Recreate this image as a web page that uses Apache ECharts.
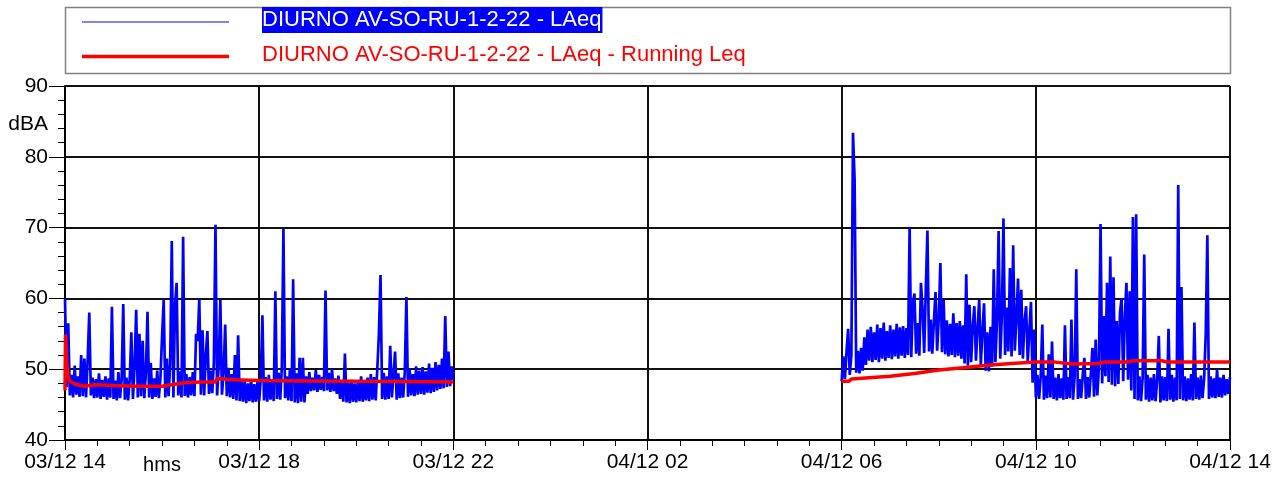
<!DOCTYPE html>
<html>
<head>
<meta charset="utf-8">
<script src="https://cdn.jsdelivr.net/npm/echarts@6/dist/echarts.min.js"></script>
<style>
  html, body { margin: 0; padding: 0; background: #fff; }
  #chart { width: 1287px; height: 486px; }
</style>
</head>
<body>
<div id="chart"></div>
<script>
// x axis runs in hours from 03/12 14:00 (0) to 04/12 14:00 (24)
var xTickLabels = ['03/12 14', '03/12 18', '03/12 22', '04/12 02', '04/12 06', '04/12 10', '04/12 14'];
var blueName = 'DIURNO AV-SO-RU-1-2-22 - LAeq';
var redName = 'DIURNO AV-SO-RU-1-2-22 - LAeq - Running Leq';

// LAeq, one value every 2 minutes, 03/12 14:00 -> 22:00
var blueStart1 = 0;
var blue1 = [
  60.0, 47.5, 56.5, 46.3, 49.2, 46.0, 50.5, 46.4, 49.0, 46.1,
  52.0, 46.2, 51.5, 46.0, 51.3, 58.0, 46.3, 48.8, 45.9, 48.6,
  46.0, 49.4, 45.8, 48.5, 46.1, 49.0, 45.7, 48.7, 46.0, 58.8,
  45.8, 48.4, 45.6, 49.6, 45.9, 48.5, 59.2, 45.7, 48.8, 45.6,
  48.6, 55.2, 45.8, 50.5, 58.4, 46.0, 55.0, 46.2, 54.0, 45.9,
  49.5, 58.1, 46.0, 50.9, 45.8, 48.7, 46.1, 49.8, 45.9, 48.9,
  54.7, 59.8, 46.0, 51.5, 46.2, 50.8, 68.1, 46.0, 59.1, 62.2,
  46.3, 49.7, 46.0, 68.7, 46.2, 49.3, 46.0, 48.9, 46.3, 49.6,
  46.2, 55.0, 54.0, 60.0, 46.4, 55.5, 46.3, 52.0, 55.4, 46.5,
  49.8, 46.6, 51.0, 70.4, 46.3, 50.5, 59.8, 46.4, 49.5, 56.3,
  46.2, 50.2, 46.0, 49.3, 45.8, 52.0, 45.6, 54.8, 45.5, 48.5,
  45.4, 48.3, 45.2, 48.0, 45.5, 48.6, 45.3, 47.9, 45.4, 48.4,
  45.5, 48.7, 57.6, 45.6, 48.9, 45.4, 49.2, 45.7, 48.6, 45.5,
  61.0, 45.8, 49.5, 45.7, 50.2, 69.8, 45.9, 49.0, 45.6, 50.0,
  45.5, 62.7, 45.3, 49.4, 45.2, 51.6, 45.4, 51.6, 45.3, 49.0,
  46.5, 49.6, 46.9, 48.8, 47.0, 49.9, 46.8, 49.2, 47.1, 48.9,
  46.9, 61.1, 47.0, 49.5, 46.8, 50.0, 46.9, 48.7, 46.5, 49.1,
  45.8, 48.4, 45.4, 52.2, 45.3, 48.1, 45.2, 48.5, 45.4, 48.0,
  45.3, 48.3, 45.5, 49.0, 45.4, 48.2, 45.6, 48.8, 45.5, 49.3,
  45.7, 48.9, 45.6, 50.0, 55.0, 63.3, 45.8, 49.5, 45.7, 49.0,
  45.8, 53.3, 46.0, 49.2, 52.5, 45.7, 49.4, 45.9, 48.8, 46.0,
  49.6, 60.2, 46.1, 50.0, 46.3, 49.3, 46.2, 50.4, 46.4, 49.8,
  46.5, 50.3, 46.4, 49.7, 46.7, 50.8, 46.6, 50.2, 46.8, 51.0,
  47.0, 50.6, 47.2, 51.5, 47.3, 57.5, 47.5, 52.5, 47.6, 50.4,
  48.5
];

// LAeq, one value every 2 minutes, 04/12 06:00 -> 14:00
var blueStart2 = 16;
var blue2 = [
  48.3, 51.8, 48.6, 52.5, 55.7, 49.2, 52.0, 83.4, 76.8, 49.5,
  52.6, 49.4, 53.0, 49.8, 54.5, 50.6, 55.6, 51.2, 56.0, 51.0,
  55.2, 51.3, 56.3, 51.0, 55.8, 51.5, 56.6, 51.2, 55.4, 51.6,
  56.2, 51.4, 55.6, 51.8, 56.4, 51.5, 55.9, 51.9, 56.1, 51.6,
  55.8, 52.0, 70.1, 51.7, 59.3, 60.7, 52.2, 56.5, 51.9, 62.2,
  58.4, 52.3, 61.3, 69.6, 52.5, 57.0, 52.2, 56.8, 60.9, 52.6,
  57.2, 65.0, 52.4, 59.8, 52.1, 56.9, 51.8, 56.4, 52.0, 57.9,
  51.7, 56.5, 51.9, 56.8, 51.5, 56.2, 50.8, 63.4, 50.5, 59.1,
  51.0, 56.0, 58.9, 51.2, 55.8, 59.8, 50.6, 55.5, 59.3, 49.8,
  55.2, 49.7, 56.0, 50.4, 64.1, 51.0, 57.0, 69.5, 51.5, 57.5,
  71.3, 52.0, 58.7, 52.5, 64.3, 51.8, 67.5, 52.6, 57.2, 62.8,
  52.0, 61.2, 51.5, 56.8, 58.9, 51.0, 55.5, 59.5, 48.1, 55.6,
  46.0, 49.2, 45.8, 48.9, 56.3, 45.7, 49.1, 45.9, 52.1, 46.0,
  53.9, 45.8, 48.8, 45.6, 49.3, 45.9, 48.7, 45.7, 56.2, 45.8,
  48.9, 45.9, 57.0, 45.7, 49.0, 64.1, 45.8, 48.6, 45.9, 49.2,
  51.6, 45.8, 48.9, 46.0, 49.4, 53.0, 46.1, 54.2, 46.3, 50.5,
  70.5, 48.0, 57.5, 49.0, 62.2, 48.2, 65.9, 47.8, 63.0, 47.6,
  56.8, 47.9, 58.0, 60.0, 48.3, 57.5, 62.2, 48.5, 61.0, 47.0,
  71.5, 45.8, 71.9, 45.6, 49.0, 45.5, 48.7, 66.2, 45.7, 49.2,
  45.4, 48.8, 45.6, 49.3, 45.5, 48.6, 54.7, 45.3, 49.0, 45.6,
  48.9, 45.5, 55.7, 45.7, 49.2, 45.4, 48.8, 45.6, 76.0, 45.8,
  61.6, 45.6, 49.0, 45.5, 48.7, 45.7, 49.3, 45.6, 56.6, 45.8,
  48.8, 45.7, 49.1, 45.9, 48.6, 54.9, 68.9, 45.8, 49.0, 46.0,
  48.7, 45.9, 50.0, 46.1, 48.8, 46.0, 49.2, 46.3, 48.6, 46.5,
  48.9
];

// running Leq, hours on the same axis
var redHours1 = [0, 0.01, 0.03, 0.06, 0.1, 0.2, 0.4, 0.6, 1.0, 1.5, 2.0, 2.2, 2.45, 2.8, 3.1, 3.13, 3.5, 4.0, 5.0, 6.0, 7.0, 8.0];
var red1 = [47.0, 54.9, 51.4, 49.0, 48.3, 47.9, 47.6, 47.8, 47.7, 47.6, 47.6, 47.8, 48.1, 48.2, 48.2, 48.7, 48.5, 48.4, 48.35, 48.3, 48.25, 48.2];
var redHours2 = [16, 16.15, 16.2, 17.0, 17.5, 18.0, 18.5, 19.0, 19.5, 20.0, 20.4, 20.75, 21.3, 21.4, 21.9, 22.0, 22.6, 22.7, 24.0];
var red2 = [48.3, 48.3, 48.6, 49.0, 49.4, 49.9, 50.2, 50.55, 50.8, 51.0, 51.0, 50.75, 50.8, 51.0, 51.0, 51.2, 51.2, 51.0, 51.0];

function stepPairs(start, vals) {
  return vals.map(function (v, i) { return [start + i * 2 / 60, v]; });
}
function zipPairs(xs, ys) {
  return xs.map(function (x, i) { return [x, ys[i]]; });
}

var font = 'Liberation Sans, Arial, sans-serif';
var myChart = echarts.init(document.getElementById('chart'));

myChart.setOption({
  animation: false,
  grid: { left: 65, right: 57, top: 86, bottom: 46 },
  xAxis: {
    type: 'value',
    min: 0,
    max: 24,
    interval: 4,
    axisLine: { lineStyle: { color: '#000', width: 2 } },
    axisTick: { length: 10, lineStyle: { color: '#000', width: 1 } },
    minorTick: { show: true, splitNumber: 6, length: 6, lineStyle: { color: '#000', width: 1 } },
    axisLabel: {
      margin: 12,
      color: '#000',
      fontFamily: font,
      fontSize: 21,
      formatter: function (v) { return xTickLabels[Math.round(v / 4)]; }
    },
    splitLine: { show: true, lineStyle: { color: '#111', width: 2 } }
  },
  yAxis: {
    type: 'value',
    min: 40,
    max: 90,
    interval: 10,
    axisLine: { show: true, lineStyle: { color: '#000', width: 2 } },
    axisTick: { show: true, length: 16, lineStyle: { color: '#000', width: 1 } },
    minorTick: { show: true, splitNumber: 5, length: 7, lineStyle: { color: '#000', width: 1 } },
    axisLabel: { margin: 17, color: '#000', fontFamily: font, fontSize: 21 },
    splitLine: { show: true, lineStyle: { color: '#111', width: 2 } }
  },
  series: [
    {
      name: blueName, type: 'line', symbol: 'none',
      data: stepPairs(blueStart1, blue1),
      lineStyle: { color: '#0000ff', width: 2.7 }
    },
    {
      name: blueName, type: 'line', symbol: 'none',
      data: stepPairs(blueStart2, blue2),
      lineStyle: { color: '#0000ff', width: 2.7 }
    },
    {
      name: redName, type: 'line', symbol: 'none',
      data: zipPairs(redHours1, red1),
      lineStyle: { color: '#ff0000', width: 3.5 }
    },
    {
      name: redName, type: 'line', symbol: 'none',
      data: zipPairs(redHours2, red2),
      lineStyle: { color: '#ff0000', width: 3.5 }
    }
  ],
  graphic: [
    // legend box
    { type: 'rect', shape: { x: 65.5, y: 7.5, width: 1165, height: 66 },
      style: { fill: 'none', stroke: '#808080', lineWidth: 1.5 } },
    { type: 'line', shape: { x1: 82, y1: 22, x2: 229, y2: 22 },
      style: { stroke: '#0000ff', lineWidth: 1.2 } },
    { type: 'text', x: 262, y: 20,
      style: { text: blueName, fill: '#fff', backgroundColor: '#0000ff', padding: [2, 1, 2, 0],
               font: '22px ' + font, verticalAlign: 'middle' } },
    { type: 'line', shape: { x1: 82, y1: 56.5, x2: 229, y2: 56.5 },
      style: { stroke: '#ff0000', lineWidth: 3.5 } },
    { type: 'text', x: 262, y: 55,
      style: { text: redName, fill: '#ff0000', font: '22px ' + font, verticalAlign: 'middle' } },
    // axis names
    { type: 'text', x: 48, y: 124,
      style: { text: 'dBA', fill: '#000', font: '21px ' + font, align: 'right', verticalAlign: 'middle' } },
    { type: 'text', x: 162, y: 465,
      style: { text: 'hms', fill: '#000', font: '20px ' + font, align: 'center', verticalAlign: 'middle' } }
  ]
});
</script>
</body>
</html>
